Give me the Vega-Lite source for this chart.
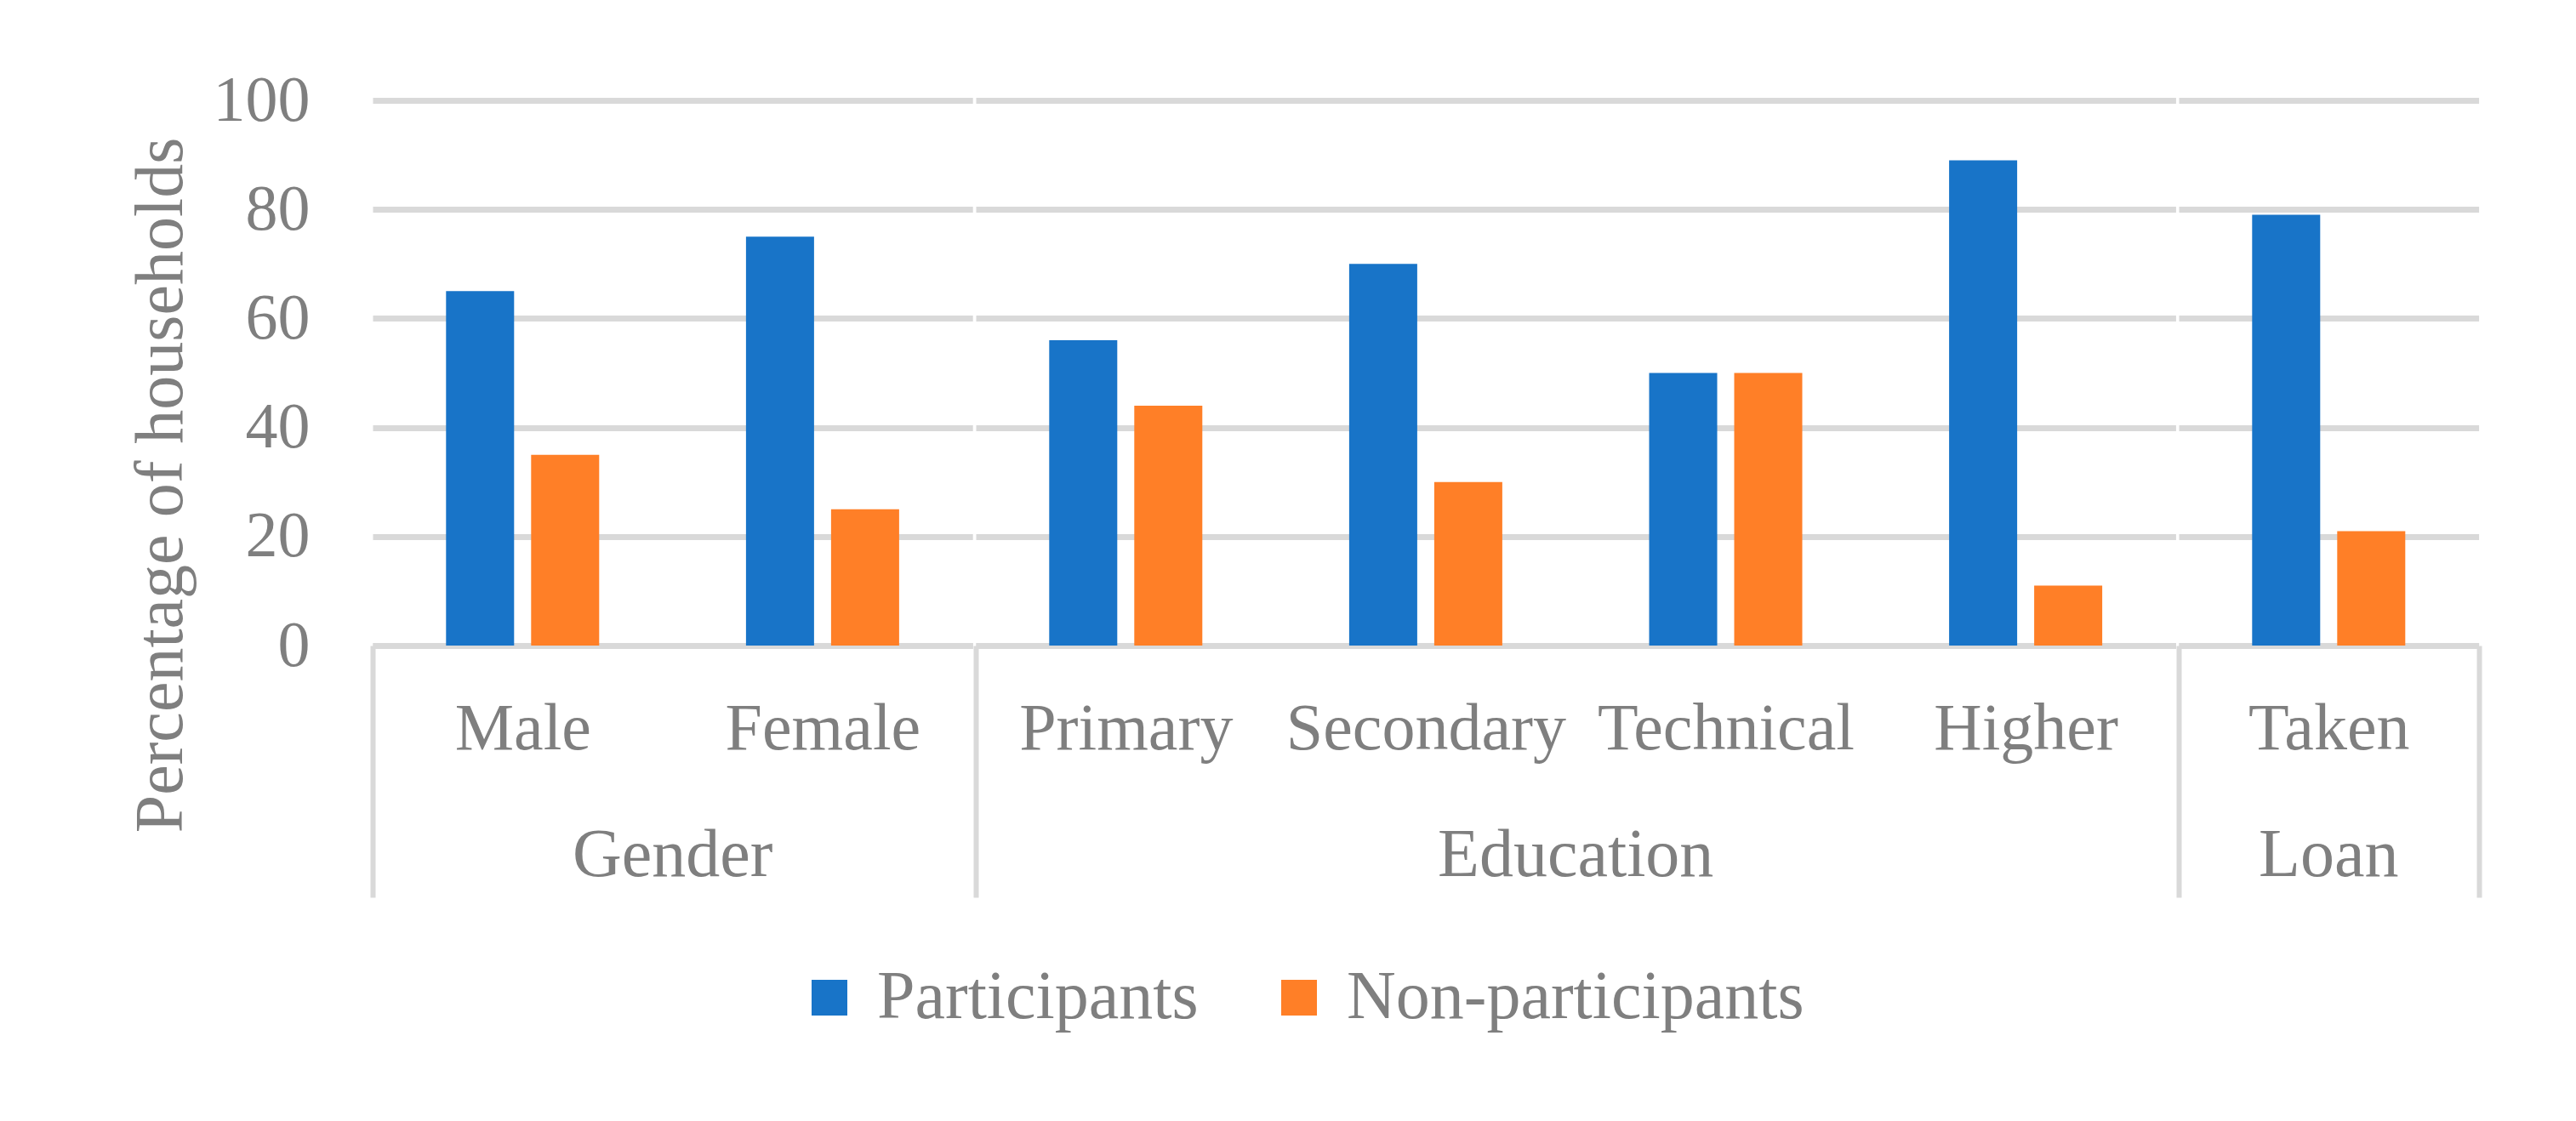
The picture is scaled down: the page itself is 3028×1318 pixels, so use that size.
{
  "$schema": "https://vega.github.io/schema/vega-lite/v6.json",
  "background": "white",
  "padding": {"left": 149, "top": 80, "right": 115, "bottom": 60},
  "data": {"values": [
    {"group": "Gender", "category": "Male", "series": "Participants", "value": 65},
    {"group": "Gender", "category": "Male", "series": "Non-participants", "value": 35},
    {"group": "Gender", "category": "Female", "series": "Participants", "value": 75},
    {"group": "Gender", "category": "Female", "series": "Non-participants", "value": 25},
    {"group": "Education", "category": "Primary", "series": "Participants", "value": 56},
    {"group": "Education", "category": "Primary", "series": "Non-participants", "value": 44},
    {"group": "Education", "category": "Secondary", "series": "Participants", "value": 70},
    {"group": "Education", "category": "Secondary", "series": "Non-participants", "value": 30},
    {"group": "Education", "category": "Technical", "series": "Participants", "value": 50},
    {"group": "Education", "category": "Technical", "series": "Non-participants", "value": 50},
    {"group": "Education", "category": "Higher", "series": "Participants", "value": 89},
    {"group": "Education", "category": "Higher", "series": "Non-participants", "value": 11},
    {"group": "Loan", "category": "Taken", "series": "Participants", "value": 79},
    {"group": "Loan", "category": "Taken", "series": "Non-participants", "value": 21}
  ]},
  "facet": {
    "column": {
      "field": "group", "type": "nominal", "sort": ["Gender", "Education", "Loan"], "title": null,
      "header": {"labelOrient": "bottom", "labelFont": "Liberation Serif", "labelFontSize": 80, "labelColor": "#7f7f7f", "labelPadding": -52, "labelBaseline": "middle"}
    }
  },
  "spacing": 0,
  "resolve": {"scale": {"x": "independent"}},
  "spec": {
    "width": {"step": 352.6, "for": "position"},
    "height": 641,
    "mark": {"type": "bar"},
    "encoding": {
      "x": {
        "field": "category", "type": "nominal", "sort": null,
        "scale": {"paddingInner": 0, "paddingOuter": 0},
        "axis": {
          "title": null, "domainColor": "#d9d9d9", "domainWidth": 7,
          "ticks": true, "tickBand": "extent", "tickSize": 296, "tickColor": "#d9d9d9", "tickWidth": 6,
          "tickOpacity": {"condition": {"test": "datum.extra || datum.value === 'Taken'", "value": 1}, "value": 0},
          "labelPadding": -237, "labelFont": "Liberation Serif", "labelFontSize": 78, "labelColor": "#7f7f7f",
          "labelAngle": 0, "labelOverlap": false, "labelLimit": 1000
        }
      },
      "xOffset": {"field": "series", "type": "nominal", "sort": ["Participants", "Non-participants"], "scale": {"range": [86.3, 266.3], "paddingInner": 0.2, "paddingOuter": 0}},
      "y": {
        "field": "value", "type": "quantitative", "scale": {"domain": [0, 100]},
        "axis": {
          "title": "Percentage of households", "titleFont": "Liberation Serif", "titleFontSize": 80, "titleFontWeight": "normal", "titleColor": "#7f7f7f", "titlePadding": 20, "titleY": 452,
          "values": [0, 20, 40, 60, 80, 100], "labelFont": "Liberation Serif", "labelFontSize": 76, "labelColor": "#7f7f7f", "labelPadding": 71,
          "domain": false, "ticks": false, "gridColor": "#d9d9d9", "gridWidth": 7
        }
      },
      "color": {
        "field": "series", "type": "nominal",
        "scale": {"domain": ["Participants", "Non-participants"], "range": ["#1874C8", "#FF7F27"]},
        "legend": {
          "title": null, "orient": "none", "legendX": 497, "legendY": 1015, "direction": "horizontal", "symbolType": "square", "symbolSize": 1764,
          "symbolStrokeWidth": 0, "labelFont": "Liberation Serif", "labelFontSize": 80, "labelColor": "#7f7f7f",
          "labelLimit": 1000, "labelOffset": 16, "columnPadding": 78
        }
      }
    }
  },
  "config": {"view": {"stroke": null}}
}
